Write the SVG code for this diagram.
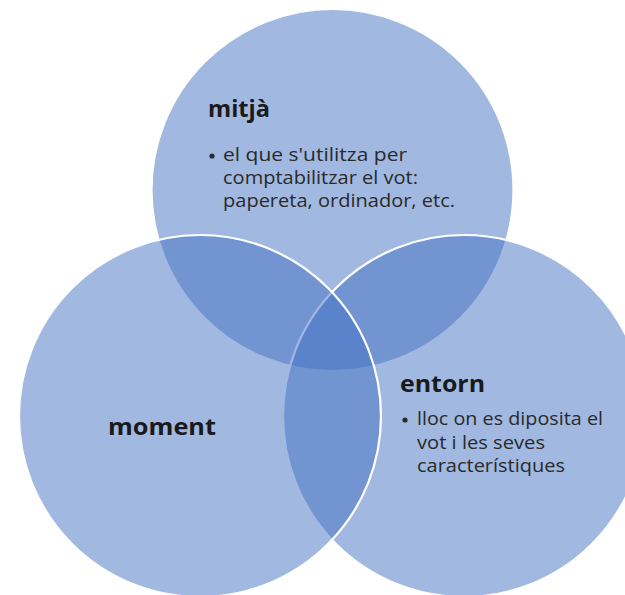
<svg xmlns="http://www.w3.org/2000/svg" width="625" height="595" viewBox="0 0 625 595">
<style>
.c{fill:rgb(68,114,196);fill-opacity:0.5;stroke:#fff;stroke-width:2.2}
.h{font-family:"Open Sans","Noto Sans",sans-serif;font-weight:bold;font-size:24px;fill:#1a1a1a}
.b{font-family:"Open Sans","Noto Sans",sans-serif;font-size:18px;fill:#2a2a2a}
.d{fill:#2a2a2a}
</style>
<rect width="625" height="595" fill="#fff"/>
<g id="mitja">
<circle class="c" cx="332.5" cy="190" r="181"/>
</g>
<g id="entorn">
<circle class="c" cx="464" cy="416" r="181"/>
</g>
<g id="moment">
<circle class="c" cx="200" cy="416" r="181"/>
</g>
<g id="labels">
<text class="h" x="208" y="117" textLength="62" lengthAdjust="spacingAndGlyphs">mitjà</text>
<circle class="d" cx="212" cy="156" r="2.6"/>
<text class="b" x="223" y="161" textLength="184" lengthAdjust="spacingAndGlyphs">el que s'utilitza per</text>
<text class="b" x="223" y="184" textLength="195" lengthAdjust="spacingAndGlyphs">comptabilitzar el vot:</text>
<text class="b" x="223" y="207" textLength="232" lengthAdjust="spacingAndGlyphs">papereta, ordinador, etc.</text>
<text class="h" x="108" y="435" textLength="108" lengthAdjust="spacingAndGlyphs">moment</text>
<text class="h" x="400" y="392" textLength="85" lengthAdjust="spacingAndGlyphs">entorn</text>
<circle class="d" cx="405" cy="420" r="2.6"/>
<text class="b" x="417" y="425" textLength="186" lengthAdjust="spacingAndGlyphs">lloc on es diposita el</text>
<text class="b" x="417" y="449" textLength="128" lengthAdjust="spacingAndGlyphs">vot i les seves</text>
<text class="b" x="417" y="472" textLength="148" lengthAdjust="spacingAndGlyphs">característiques</text>
</g>
</svg>
